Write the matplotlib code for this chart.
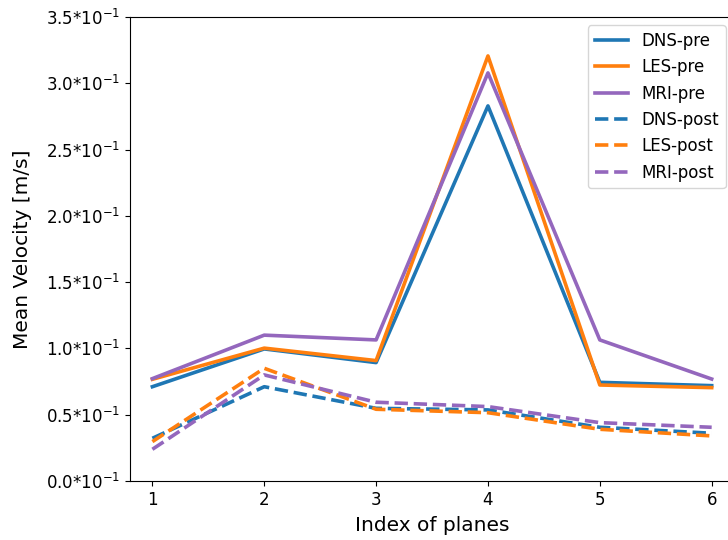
import numpy as np
import matplotlib
matplotlib.use('Agg')
import matplotlib.pyplot as plt
from matplotlib.ticker import FuncFormatter, MultipleLocator

# Indici dei piani e velocita' medie
planes = [1, 2, 3, 4, 5, 6]

dns_pre = [0.0711, 0.0996, 0.0893, 0.2829, 0.0744, 0.0719]
les_pre = [0.0767, 0.1002, 0.0908, 0.3206, 0.0724, 0.0704]
mri_pre = [0.0772, 0.1100, 0.1064, 0.3078, 0.1064, 0.0769]

dns_post = [0.0322, 0.0711, 0.0548, 0.0536, 0.0405, 0.0360]
les_post = [0.0297, 0.0850, 0.0541, 0.0515, 0.0390, 0.0340]
mri_post = [0.0239, 0.0800, 0.0594, 0.0561, 0.0440, 0.0405]

fig = plt.figure(figsize=(7.28, 5.4), dpi=100)
ax = fig.add_axes([0.1786, 0.1093, 0.8297, 0.8593])

lw = 2.6
ax.plot(planes, dns_pre, color='tab:blue', linewidth=lw, label='DNS-pre')
ax.plot(planes, les_pre, color='tab:orange', linewidth=lw, label='LES-pre')
ax.plot(planes, mri_pre, color='tab:purple', linewidth=lw, label='MRI-pre')
ax.plot(planes, dns_post, color='tab:blue', linewidth=lw, linestyle='--', label='DNS-post')
ax.plot(planes, les_post, color='tab:orange', linewidth=lw, linestyle='--', label='LES-post')
ax.plot(planes, mri_post, color='tab:purple', linewidth=lw, linestyle='--', label='MRI-post')

ax.set_xlim(0.8, 6.2)
ax.set_ylim(0, 0.35)
ax.yaxis.set_major_locator(MultipleLocator(0.05))
ax.yaxis.set_major_formatter(FuncFormatter(lambda v, pos: f'{v * 10:.1f}*10$^{{-1}}$'))
ax.tick_params(labelsize=12)

ax.set_xlabel('Index of planes', fontsize=14.5, labelpad=5)
ax.set_ylabel('Mean Velocity [m/s]', fontsize=14.5, labelpad=10)
ax.legend(loc='upper right', fontsize=12)

fig.savefig('out.png', dpi=100)
